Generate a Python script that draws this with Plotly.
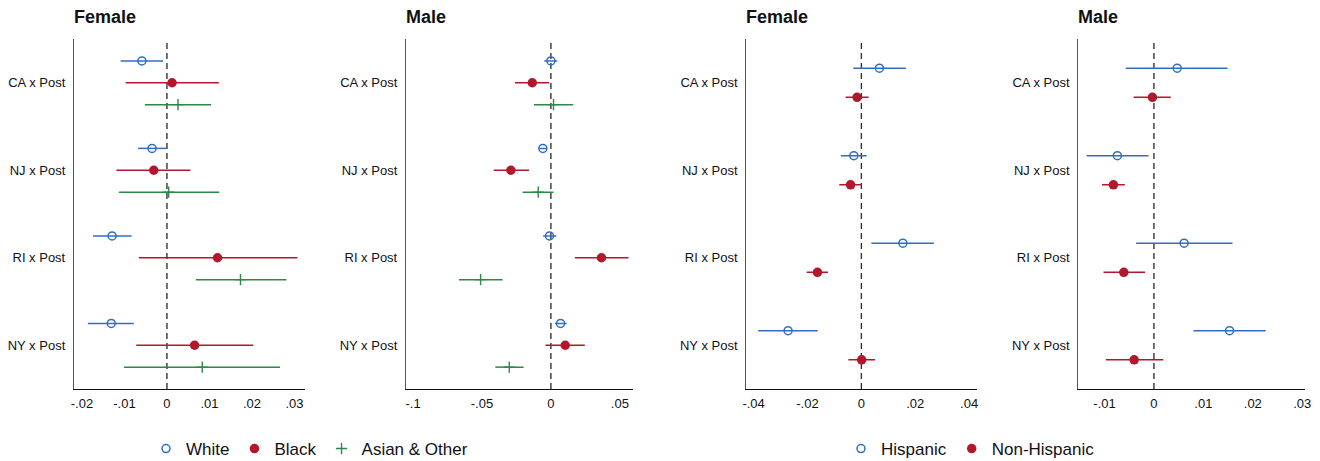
import plotly.graph_objects as go

# ---------------- data ----------------
rows = ["CA x Post", "NJ x Post", "RI x Post", "NY x Post"]

# Panel 1: Race, Female
f_white = [-0.0059, -0.0035, -0.0129, -0.0131]
f_white_lo = [-0.0109, -0.0068, -0.0174, -0.0186]
f_white_hi = [-0.0009, -0.0002, -0.0083, -0.0078]
f_black = [0.0012, -0.0031, 0.0119, 0.0065]
f_black_lo = [-0.0097, -0.0119, -0.0066, -0.0072]
f_black_hi = [0.0122, 0.0055, 0.0307, 0.0203]
f_asian = [0.0026, 0.0004, 0.0173, 0.0083]
f_asian_lo = [-0.0052, -0.0113, 0.0068, -0.0101]
f_asian_hi = [0.0104, 0.0123, 0.0281, 0.0266]

# Panel 2: Race, Male
m_white = [0.0000, -0.0058, -0.0010, 0.0070]
m_white_lo = [-0.0048, -0.0085, -0.0056, 0.0029]
m_white_hi = [0.0046, -0.0029, 0.0039, 0.0114]
m_black = [-0.0135, -0.0290, 0.0367, 0.0104]
m_black_lo = [-0.0261, -0.0415, 0.0174, -0.0039]
m_black_hi = [-0.0012, -0.0159, 0.0563, 0.0246]
m_asian = [0.0019, -0.0092, -0.0510, -0.0302]
m_asian_lo = [-0.0123, -0.0205, -0.0667, -0.0403]
m_asian_hi = [0.0162, 0.0019, -0.0350, -0.0198]

# Panel 3: Ethnicity, Female
f_hisp = [0.0067, -0.0028, 0.0154, -0.0272]
f_hisp_lo = [-0.0030, -0.0076, 0.0037, -0.0383]
f_hisp_hi = [0.0165, 0.0020, 0.0269, -0.0162]
f_nonh = [-0.0016, -0.0040, -0.0163, 0.0001]
f_nonh_lo = [-0.0058, -0.0082, -0.0203, -0.0048]
f_nonh_hi = [0.0027, 0.0002, -0.0124, 0.0051]

# Panel 4: Ethnicity, Male
m_hisp = [0.0047, -0.0074, 0.0061, 0.0153]
m_hisp_lo = [-0.0057, -0.0136, -0.0036, 0.0080]
m_hisp_hi = [0.0149, -0.0011, 0.0159, 0.0226]
m_nonh = [-0.0003, -0.0082, -0.0061, -0.0040]
m_nonh_lo = [-0.0041, -0.0105, -0.0102, -0.0097]
m_nonh_hi = [0.0034, -0.0059, -0.0018, 0.0019]

panel_titles = ["Female", "Male", "Female", "Male"]
x_ticks = [
    [-0.02, -0.01, 0, 0.01, 0.02, 0.03],
    [-0.1, -0.05, 0, 0.05],
    [-0.04, -0.02, 0, 0.02, 0.04],
    [-0.01, 0, 0.01, 0.02, 0.03],
]
x_ticktext = [
    ["-.02", "-.01", "0", ".01", ".02", ".03"],
    ["-.1", "-.05", "0", ".05"],
    ["-.04", "-.02", "0", ".02", ".04"],
    ["-.01", "0", ".01", ".02", ".03"],
]

# ---------------- style ----------------
BLUE = "#2f6fc0"
RED = "#b2182b"
GREEN = "#2a8a45"
FONT = "Liberation Sans, Arial, Helvetica, sans-serif"
W, H = 1320, 461

x_px = [(74, 305), (406, 632.5), (746.3, 976.7), (1078.3, 1304.7)]
x_ranges = [(-0.02186, 0.03247), (-0.1051, 0.0592), (-0.0427, 0.0428), (-0.0153, 0.0305)]
y_dom = [1 - 389 / H, 1 - 39 / H]

fig = go.Figure()

base_pos = [1, 2, 3, 4]


def add_series(ax, vals, lo, hi, offset, name, color, kind, legend, show):
    ys = [p + offset for p in base_pos]
    plus = [h - v for v, h in zip(vals, hi)]
    minus = [v - l for v, l in zip(vals, lo)]
    if kind == "open":
        marker = dict(symbol="circle-open", size=8, color=color, line=dict(width=1.5, color=color))
    elif kind == "filled":
        marker = dict(symbol="circle", size=9.5, color=color, line=dict(width=0))
    else:
        marker = dict(symbol="cross-thin", size=8, color=color, line=dict(width=1.4, color=color))
    xa = "x" if ax == 1 else f"x{ax}"
    ya = "y" if ax == 1 else f"y{ax}"
    fig.add_trace(go.Scatter(
        x=vals, y=ys, mode="markers", name=name, marker=marker,
        error_x=dict(type="data", symmetric=False, array=plus, arrayminus=minus,
                     color=color, thickness=1.5, width=0),
        xaxis=xa, yaxis=ya, legend=legend, showlegend=show,
    ))


add_series(1, f_white, f_white_lo, f_white_hi, -0.25, "White", BLUE, "open", "legend", True)
add_series(1, f_black, f_black_lo, f_black_hi, 0.0, "Black", RED, "filled", "legend", True)
add_series(1, f_asian, f_asian_lo, f_asian_hi, 0.25, "Asian & Other", GREEN, "plus", "legend", True)
add_series(2, m_white, m_white_lo, m_white_hi, -0.25, "White", BLUE, "open", "legend", False)
add_series(2, m_black, m_black_lo, m_black_hi, 0.0, "Black", RED, "filled", "legend", False)
add_series(2, m_asian, m_asian_lo, m_asian_hi, 0.25, "Asian & Other", GREEN, "plus", "legend", False)
add_series(3, f_hisp, f_hisp_lo, f_hisp_hi, -0.167, "Hispanic", BLUE, "open", "legend2", True)
add_series(3, f_nonh, f_nonh_lo, f_nonh_hi, 0.167, "Non-Hispanic", RED, "filled", "legend2", True)
add_series(4, m_hisp, m_hisp_lo, m_hisp_hi, -0.167, "Hispanic", BLUE, "open", "legend2", False)
add_series(4, m_nonh, m_nonh_lo, m_nonh_hi, 0.167, "Non-Hispanic", RED, "filled", "legend2", False)

layout = dict(
    width=W, height=H,
    margin=dict(l=0, r=0, t=0, b=0, autoexpand=False),
    paper_bgcolor="white", plot_bgcolor="white",
    font=dict(family=FONT, size=13, color="#111"),
    legend=dict(orientation="h", x=146 / W, xanchor="left", y=1 - 449 / H, yanchor="middle",
                font=dict(size=17, family=FONT, color="#111"), bgcolor="rgba(0,0,0,0)"),
    legend2=dict(orientation="h", x=841 / W, xanchor="left", y=1 - 449 / H, yanchor="middle",
                 font=dict(size=17, family=FONT, color="#111"), bgcolor="rgba(0,0,0,0)"),
)

shapes = []
annotations = []
for i in range(4):
    sfx = "" if i == 0 else str(i + 1)
    layout[f"xaxis{sfx}"] = dict(
        domain=[x_px[i][0] / W, x_px[i][1] / W], range=list(x_ranges[i]),
        anchor=f"y{sfx}", tickvals=x_ticks[i], ticktext=x_ticktext[i],
        showgrid=False, zeroline=False, showline=True, linecolor="#111", linewidth=1.3,
        ticks="", ticklabelstandoff=2, tickfont=dict(size=13), automargin=False,
    )
    layout[f"yaxis{sfx}"] = dict(
        domain=y_dom, range=[4.5, 0.5], anchor=f"x{sfx}",
        tickvals=base_pos, ticktext=rows,
        showgrid=False, zeroline=False, showline=True, linecolor="#555", linewidth=1.3,
        ticks="", ticklabelstandoff=5, tickfont=dict(size=13), automargin=False,
    )
    shapes.append(dict(type="line", xref=f"x{sfx}", yref=f"y{sfx} domain", x0=0, x1=0, y0=0, y1=1,
                       line=dict(color="#333", width=1.4, dash="6px,4px"), layer="below"))
    annotations.append(dict(text=f"<b>{panel_titles[i]}</b>", xref="paper", yref="paper",
                            x=(x_px[i][0] - 2) / W, y=1 - 17 / H, xanchor="left", yanchor="middle",
                            showarrow=False, font=dict(size=18, family=FONT, color="#111")))

layout["shapes"] = shapes
layout["annotations"] = annotations
fig.update_layout(**layout)

fig.write_html("out.html")
